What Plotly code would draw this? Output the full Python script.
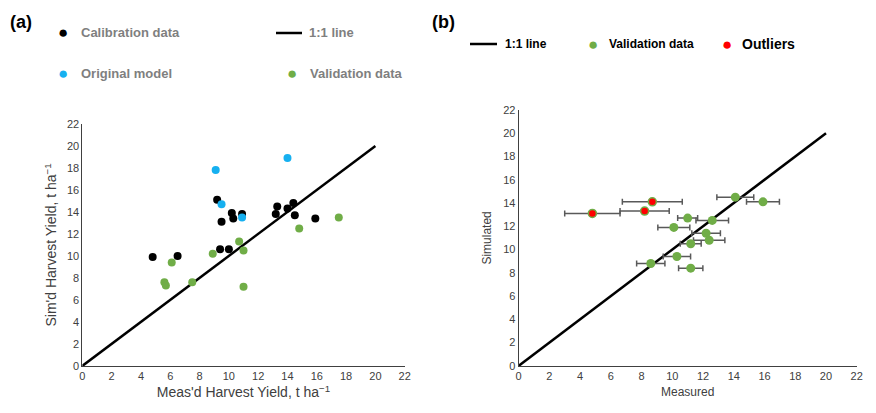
import plotly.graph_objects as go

cal_x = [4.8, 6.5, 9.2, 9.5, 9.4, 10.0, 10.2, 10.3, 10.9, 13.2, 13.3, 14.0, 14.4, 14.5, 15.9]
cal_y = [9.9, 10.0, 15.1, 13.1, 10.6, 10.6, 13.9, 13.4, 13.8, 13.8, 14.5, 14.3, 14.8, 13.7, 13.4]
orig_x = [9.1, 9.5, 10.9, 14.0]
orig_y = [17.8, 14.7, 13.5, 18.9]
val_x = [6.1, 5.6, 5.7, 7.5, 8.9, 10.7, 11.0, 11.0, 14.8, 17.5]
val_y = [9.4, 7.6, 7.3, 7.6, 10.2, 11.3, 10.5, 7.2, 12.5, 13.5]

bval_x = [14.1, 15.9, 11.0, 12.6, 10.1, 12.2, 12.4, 11.2, 10.3, 8.6, 11.2]
bval_y = [14.5, 14.1, 12.7, 12.5, 11.9, 11.4, 10.8, 10.5, 9.4, 8.8, 8.4]
bval_err = [1.2, 1.07, 0.65, 1.06, 1.04, 0.93, 1.02, 0.68, 0.89, 0.92, 0.79]
out_x = [4.8, 8.7, 8.2]
out_y = [13.1, 14.1, 13.3]
out_err = [1.8, 1.95, 1.6]
line_xy = [0, 20]
ticks = list(range(0, 23, 2))

fig = go.Figure()
fig.add_trace(go.Scatter(x=line_xy, y=line_xy, mode="lines", line=dict(color="black", width=2.5), xaxis="x", yaxis="y"))
for xs, ys, c in [(cal_x, cal_y, "black"), (orig_x, orig_y, "#16b0f0"), (val_x, val_y, "#70ad47")]:
    fig.add_trace(go.Scatter(x=xs, y=ys, mode="markers", marker=dict(color=c, size=8), xaxis="x", yaxis="y"))
fig.add_trace(go.Scatter(x=line_xy, y=line_xy, mode="lines", line=dict(color="black", width=2.5), xaxis="x2", yaxis="y2"))
fig.add_trace(go.Scatter(x=bval_x, y=bval_y, mode="markers", marker=dict(color="#70ad47", size=9),
                         error_x=dict(type="data", array=bval_err, color="#595959", thickness=1.5, width=3),
                         xaxis="x2", yaxis="y2"))
fig.add_trace(go.Scatter(x=out_x, y=out_y, mode="markers", marker=dict(color="red", size=8, line=dict(color="#70ad47", width=1.5)),
                         error_x=dict(type="data", array=out_err, color="#595959", thickness=1.5, width=3),
                         xaxis="x2", yaxis="y2"))

ax = dict(range=[0, 22], tickvals=ticks, showgrid=False, zeroline=False, showline=True, linecolor="#404040",
          linewidth=1, ticks="", tickfont=dict(size=11, color="#404040"), fixedrange=True, automargin=False)
fig.update_layout(
    width=876, height=413, showlegend=False, plot_bgcolor="white", paper_bgcolor="white",
    margin=dict(l=0, r=0, t=0, b=0), font=dict(family="Liberation Sans"),
    xaxis=dict(ax, domain=[0.094, 0.462], anchor="y",
               title=dict(text="Meas'd Harvest Yield, t ha<sup>−1</sup>", font=dict(size=14, color="#404040"), standoff=6)),
    yaxis=dict(ax, domain=[0.114, 0.70], anchor="x",
               title=dict(text="Sim'd Harvest Yield, t ha<sup>−1</sup>", font=dict(size=14, color="#404040"), standoff=6)),
    xaxis2=dict(ax, domain=[0.592, 0.978], anchor="y2",
                title=dict(text="Measured", font=dict(size=12, color="#404040"), standoff=6)),
    yaxis2=dict(ax, domain=[0.114, 0.734], anchor="x2",
                title=dict(text="Simulated", font=dict(size=12, color="#404040"), standoff=8)),
)

def px(x, y):
    return x / 876, 1 - y / 413

anns = []
def txt(x, y, t, size=13, color="#7f7f7f", bold=True):
    X, Y = px(x, y)
    anns.append(dict(x=X, y=Y, xref="paper", yref="paper", xanchor="left", yanchor="middle", showarrow=False,
                     text=f"<b>{t}</b>" if bold else t, font=dict(size=size, color=color)))
def dot(x, y, c, size=17):
    X, Y = px(x, y)
    anns.append(dict(x=X, y=Y, xref="paper", yref="paper", xanchor="center", yanchor="middle", showarrow=False,
                     text="●", font=dict(size=size, color=c)))

txt(8, 22, "(a)", 18, "black")
txt(430, 22, "(b)", 18, "black")
dot(63, 33, "black"); txt(79, 33, "Calibration data")
txt(307, 33, "1:1 line")
dot(63, 74, "#16b0f0"); txt(79, 74, "Original model")
dot(292, 74, "#70ad47"); txt(308, 74, "Validation data")
txt(503, 44, "1:1 line", 12, "black")
dot(593, 44, "#70ad47"); txt(607, 44, "Validation data", 12, "black")
dot(727, 44, "red"); txt(740, 44, "Outliers", 14, "black")
shapes = []
for x0, x1, y in [(276, 302, 33), (470, 497, 44)]:
    X0, Y = px(x0, y); X1, _ = px(x1, y)
    shapes.append(dict(type="line", xref="paper", yref="paper", x0=X0, x1=X1, y0=Y, y1=Y, line=dict(color="black", width=2.5)))
fig.update_layout(annotations=anns, shapes=shapes)
fig.write_html("out.html", config={"displayModeBar": False})
with open("out.html", encoding="utf-8") as f:
    html = f.read()
html = html.replace("<body>", '<body style="margin:0">', 1)
with open("out.html", "w", encoding="utf-8") as f:
    f.write(html)
